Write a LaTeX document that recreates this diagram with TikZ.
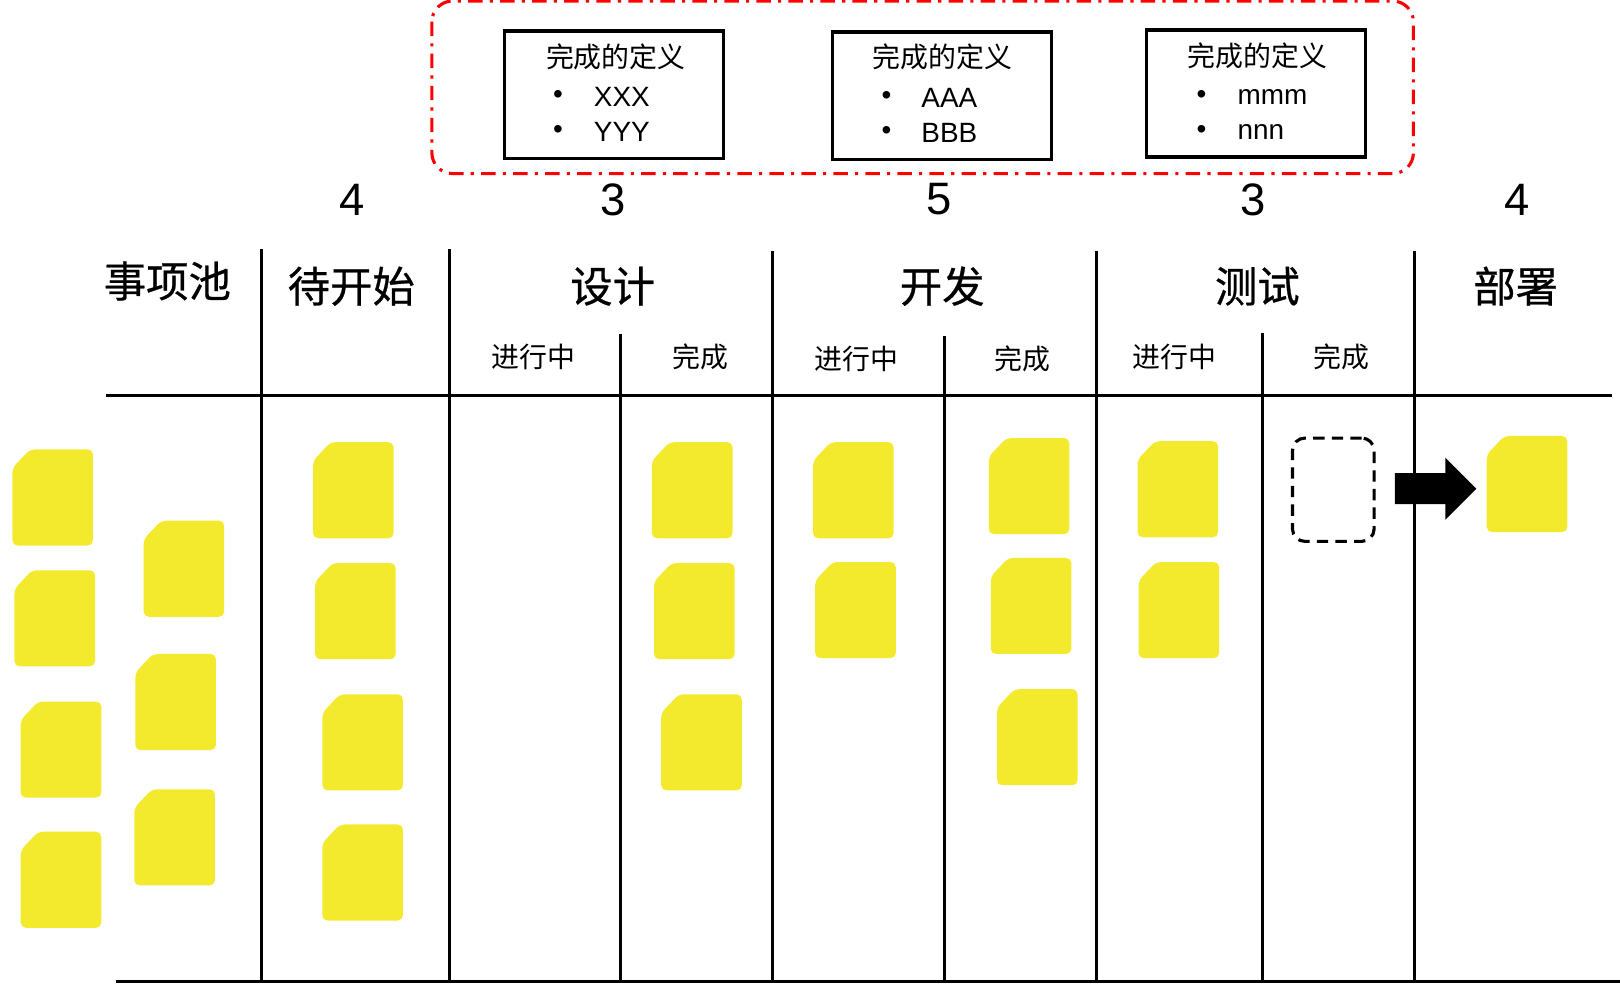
\documentclass[tikz,border=0pt]{standalone}
\usepackage{fontspec}
\setmainfont{Liberation Sans}
\newfontfamily\cjk{Noto Sans CJK SC}
\newfontfamily\cjkfett[FakeBold=0.6]{Noto Sans CJK SC}
\definecolor{notegelb}{RGB}{243,233,45}
\begin{document}
\begin{tikzpicture}[x=1pt,y=-1pt,line width=3pt,
  head/.style={font=\cjkfett\fontsize{41}{49}\selectfont},
  sub/.style={font=\cjk\fontsize{27}{32}\selectfont},
  num/.style={font=\fontsize{44}{52}\selectfont},
  txt/.style={font=\fontsize{27}{32}\selectfont},
  defbox/.style={draw,minimum width=212pt,minimum height=123pt},
  slotbox/.style={draw,rounded corners=12pt,dash pattern=on 11pt off 7pt,minimum width=79pt,minimum height=100pt},
  sticky/.pic={\fill[notegelb,rounded corners=5pt] (0,18) -- (17,0) -- (78,0) -- (78,93) -- (0,93) -- cycle;}]
	\useasboundingbox (0,0) rectangle (1568,955);
	%Rahmen um die Definitionen
	\draw [red,dash pattern=on 14pt off 7pt on 3pt off 7pt,rounded corners=20pt] (418,1) rectangle (1368,168);
	%Definitionen
	\node (def1) [defbox] at (594,91.5) {};
	\node (def2) [defbox] at (911.5,92.5) {};
	\node (def3) [defbox] at (1216,90.5) {};
	\node (def1t) [sub] at (596,55) {完成的定义};
	\node (def2t) [sub] at (912,55) {完成的定义};
	\node (def3t) [sub] at (1217,54) {完成的定义};
	\node (def1p) [txt] at (540,94) {\textbullet};
	\node (def1q) [txt] at (540,128) {\textbullet};
	\node (def2p) [txt] at (858,95) {\textbullet};
	\node (def2q) [txt] at (858,129) {\textbullet};
	\node (def3p) [txt] at (1163,94) {\textbullet};
	\node (def3q) [txt] at (1163,128) {\textbullet};
	\node (def1a) [txt,anchor=west] at (570,94) {XXX};
	\node (def1b) [txt,anchor=west] at (570,128) {YYY};
	\node (def2a) [txt,anchor=west] at (887,95) {AAA};
	\node (def2b) [txt,anchor=west] at (887,129) {BBB};
	\node (def3a) [txt,anchor=west] at (1193,94) {mmm};
	\node (def3b) [txt,anchor=west] at (1193,128) {nnn};
	%WIP-Limits
	\node (wip1) [num] at (341,193) {4};
	\node (wip2) [num] at (593,193) {3};
	\node (wip3) [num] at (909,193) {5};
	\node (wip4) [num] at (1213,193) {3};
	\node (wip5) [num] at (1468,193) {4};
	%Spaltenkoepfe
	\node (pool) [head] at (162,272) {事项池};
	\node (todo) [head] at (340,277) {待开始};
	\node (design) [head] at (593,277) {设计};
	\node (dev) [head] at (912,277) {开发};
	\node (test) [head] at (1217,277) {测试};
	\node (deploy) [head] at (1467,277) {部署};
	\node (design1) [sub] at (516,345) {进行中};
	\node (design2) [sub] at (678,345) {完成};
	\node (dev1) [sub] at (829,347) {进行中};
	\node (dev2) [sub] at (990,347) {完成};
	\node (test1) [sub] at (1137,345) {进行中};
	\node (test2) [sub] at (1298,345) {完成};
	%Linien
	\draw (103,383) -- (1560,383);
	\draw (112,950) -- (1568,950);
	\draw (253,241) -- (253,950);
	\draw (435,241) -- (435,950);
	\draw (748,243) -- (748,950);
	\draw (1061,243) -- (1061,950);
	\draw (1369,243) -- (1369,950);
	\draw (601,323) -- (601,950);
	\draw (914,325) -- (914,950);
	\draw (1222,322) -- (1222,950);
	%Zettel
	\pic (s1) at (12,435) {sticky};
	\pic (s2) at (14,552) {sticky};
	\pic (s3) at (20,679) {sticky};
	\pic (s4) at (20,805) {sticky};
	\pic (s5) at (139,504) {sticky};
	\pic (s6) at (131,633) {sticky};
	\pic (s7) at (130,764) {sticky};
	\pic (s8) at (303,428) {sticky};
	\pic (s9) at (305,545) {sticky};
	\pic (s10) at (312,672) {sticky};
	\pic (s11) at (312,798) {sticky};
	\pic (s12) at (631,428) {sticky};
	\pic (s13) at (633,545) {sticky};
	\pic (s14) at (640,672) {sticky};
	\pic (s15) at (787,428) {sticky};
	\pic (s16) at (789,544) {sticky};
	\pic (s17) at (957,424) {sticky};
	\pic (s18) at (959,540) {sticky};
	\pic (s19) at (965,667) {sticky};
	\pic (s20) at (1101,427) {sticky};
	\pic (s21) at (1102,544) {sticky};
	\pic (s22) at (1439,422) {sticky};
	%Leerer Platz und Pfeil
	\node (slot) [slotbox] at (1290.5,474) {};
	\fill (1350,458) -- (1399,458) -- (1399,443) -- (1429,473) -- (1399,503) -- (1399,488) -- (1350,488) -- cycle;
\end{tikzpicture}
\end{document}
